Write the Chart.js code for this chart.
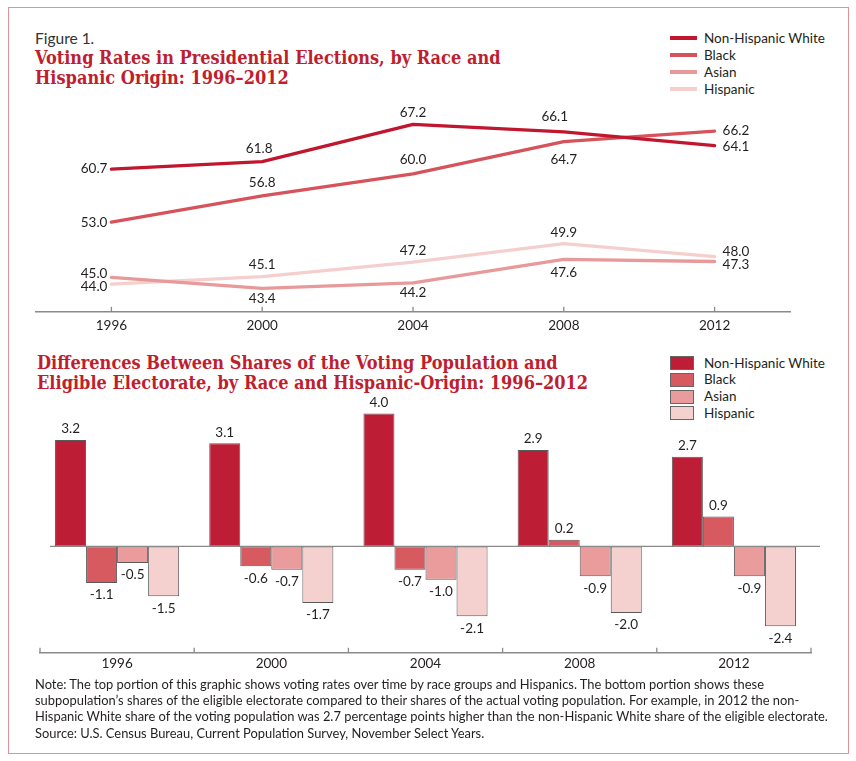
<!DOCTYPE html>
<html><head><meta charset="utf-8">
<script src="https://cdn.jsdelivr.net/npm/chart.js@4/dist/chart.umd.min.js"></script>
<style>
body{margin:0;background:#fff;}
#wrap{position:relative;width:856px;height:761px;overflow:hidden;font-family:Lato,"Open Sans",sans-serif;color:#231f20;}
#frame{position:absolute;left:8px;top:7px;border:1.5px solid #e6909b;box-sizing:border-box;width:841px;height:747px;}
.t{position:absolute;white-space:nowrap;}
.title{font-family:"DejaVu Serif",serif;font-weight:bold;color:#bf1e2e;font-size:18px;line-height:20px;font-stretch:condensed;}
.leg{font-size:13.5px;line-height:17px;}
.note{font-size:12.9px;line-height:16px;}
canvas{position:absolute;left:0;}
</style></head>
<body><div id="wrap">
<div id="frame"></div>
<div class="t" style="left:35px;top:29px;font-size:15.5px;line-height:18px;color:#333;">Figure 1.</div>
<div class="t title" style="left:35px;top:48px;">Voting Rates in Presidential Elections, by Race and</div>
<div class="t title" style="left:35px;top:68px;">Hispanic Origin: 1996–2012</div>
<div class="t title" style="left:37px;top:353px;">Differences Between Shares of the Voting Population and</div>
<div class="t title" style="left:37px;top:373px;">Eligible Electorate, by Race and Hispanic-Origin: 1996–2012</div>
<div id="leg1"></div>
<div id="leg2"></div>
<canvas id="c1" width="856" height="345" style="top:0"></canvas>
<canvas id="c2" width="856" height="340" style="top:340px"></canvas>
<div class="t note" style="left:35px;top:676px;">Note: The top portion of this graphic shows voting rates over time by race groups and Hispanics. The bottom portion shows these</div>
<div class="t note" style="left:35px;top:692px;">subpopulation’s shares of the eligible electorate compared to their shares of the actual voting population. For example, in 2012 the non-</div>
<div class="t note" style="left:35px;top:708px;">Hispanic White share of the voting population was 2.7 percentage points higher than the non-Hispanic White share of the eligible electorate.</div>
<div class="t note" style="left:35px;top:725px;">Source: U.S. Census Bureau, Current Population Survey, November Select Years.</div>
</div>
<script>
// ---- data ----
const years = ['1996','2000','2004','2008','2012'];
const seriesNames = ['Non-Hispanic White','Black','Asian','Hispanic'];
const nhwRate   = [60.7, 61.8, 67.2, 66.1, 64.1];
const blackRate = [53.0, 56.8, 60.0, 64.7, 66.2];
const asianRate = [45.0, 43.4, 44.2, 47.6, 47.3];
const hispRate  = [44.0, 45.1, 47.2, 49.9, 48.0];
const nhwDiff   = [3.2, 3.1, 4.0, 2.9, 2.7];
const blackDiff = [-1.1, -0.6, -0.7, 0.2, 0.9];
const asianDiff = [-0.5, -0.7, -1.0, -0.9, -0.9];
const hispDiff  = [-1.5, -1.7, -2.1, -2.0, -2.4];

// ---- styles ----
const lineColors = ['#c0172f','#d6535c','#e89a9a','#f5cfcd'];
const barColors  = ['#be1e35','#d65a60','#e99c9b','#f4d0ce'];
const FONT = 'Lato, "Open Sans", sans-serif';
const TXT = '#231f20';
const AXIS = '#8a8a8a';
// label placement per point: [mode, dx, dy]
const linePlace = [
  [['L',0,0],['A',-3,-13],['A',0,-12],['A',-9,-15],['R',0,1]],
  [['L',0,0],['A',0,-13],['A',0,-14],['B',0,18],['R',0,-1]],
  [['L',0,-4],['B',0,10],['B',0,10],['B',0,13],['R',0,3]],
  [['L',0,2],['A',0,-12],['A',0,-12],['A',0,-11],['R',0,-5]]
];

document.getElementById('leg1').innerHTML = seriesNames.map((n,i)=>
  `<div class="t" style="left:670px;top:${36+i*17}px;width:27px;height:4px;background:${lineColors[i]}"></div>`+
  `<div class="t leg" style="left:704px;top:${29.5+i*17}px;">${n}</div>`).join('');
document.getElementById('leg2').innerHTML = seriesNames.map((n,i)=>
  `<div class="t" style="left:670px;top:${356+i*16.8}px;width:24px;height:14px;background:${barColors[i]};border:1px solid #666;box-sizing:border-box"></div>`+
  `<div class="t leg" style="left:704px;top:${354.5+i*16.8}px;">${n}</div>`).join('');

const fmt = v => v.toFixed(1);

const upTicks = {
  id:'upTicks',
  afterDraw(chart, args, opts){
    const {ctx, chartArea:a} = chart; const xs = chart.scales.x;
    ctx.save(); ctx.strokeStyle = AXIS; ctx.lineWidth = 1.3;
    const n = xs.ticks.length;
    let pts = [];
    if (opts.mode === 'center') { for (let i=0;i<n;i++) pts.push(xs.getPixelForTick(i)); }
    else { for (let i=0;i<=n;i++) pts.push(a.left + i*(a.right-a.left)/n); }
    pts.forEach(x=>{ ctx.beginPath(); ctx.moveTo(x, a.bottom); ctx.lineTo(x, a.bottom-5); ctx.stroke(); });
    ctx.restore();
  }
};

const lineLabels = {
  id:'lineLabels',
  afterDatasetsDraw(chart){
    const ctx = chart.ctx; ctx.save();
    ctx.font = '13.5px ' + FONT; ctx.fillStyle = TXT; ctx.textBaseline = 'middle';
    chart.data.datasets.forEach((ds, di)=>{
      chart.getDatasetMeta(di).data.forEach((pt, i)=>{
        const [m, dx, dy] = linePlace[di][i];
        let x = pt.x + dx, y = pt.y + dy;
        if (m==='L'){ ctx.textAlign='right'; x -= 4; }
        else if (m==='R'){ ctx.textAlign='left'; x += 8; }
        else ctx.textAlign='center';
        ctx.fillText(fmt(ds.data[i]), x, y);
      });
    });
    ctx.restore();
  }
};

const barLabels = {
  id:'barLabels',
  afterDatasetsDraw(chart){
    const ctx = chart.ctx; const ys = chart.scales.y; const a = chart.chartArea;
    ctx.save();
    const y0 = ys.getPixelForValue(0);
    ctx.strokeStyle = AXIS; ctx.lineWidth = 1.3;
    ctx.beginPath(); ctx.moveTo(a.left+10, y0); ctx.lineTo(a.right+9, y0); ctx.stroke();
    ctx.font = '13.5px ' + FONT; ctx.fillStyle = TXT; ctx.textBaseline='middle'; ctx.textAlign='center';
    chart.data.datasets.forEach((ds, di)=>{
      chart.getDatasetMeta(di).data.forEach((b, i)=>{
        const v = ds.data[i];
        ctx.fillText(fmt(v), b.x, v>=0 ? b.y-11 : b.y+12);
      });
    });
    ctx.restore();
  }
};

const xTicks = (pad)=>({padding:pad, color:TXT, font:{family:FONT, size:13.5}, maxRotation:0, autoSkip:false});

new Chart(document.getElementById('c1'), {
  type:'line',
  data:{labels:years, datasets:[nhwRate,blackRate,asianRate,hispRate].map((d,i)=>({
    label:seriesNames[i], data:d, borderColor:lineColors[i], backgroundColor:lineColors[i],
    borderWidth:3.3, pointRadius:0, tension:0, borderCapStyle:'round', borderJoinStyle:'round'}))},
  options:{
    responsive:false, animation:false,
    layout:{padding:{left:36, right:66, top:105, bottom:5}},
    plugins:{legend:{display:false}, tooltip:{enabled:false}, upTicks:{mode:'center'}},
    scales:{
      x:{type:'category', offset:true, grid:{display:false, drawTicks:false}, border:{display:true, color:AXIS, width:1.5}, ticks:xTicks(6)},
      y:{display:false, min:40, max:70}
    }
  },
  plugins:[upTicks, lineLabels]
});

new Chart(document.getElementById('c2'), {
  type:'bar',
  data:{labels:years, datasets:[nhwDiff,blackDiff,asianDiff,hispDiff].map((d,i)=>({
    label:seriesNames[i], data:d, backgroundColor:barColors[i], borderColor:'#5a5a5a', borderWidth:1,
    borderSkipped:false, categoryPercentage:0.805, barPercentage:1.0}))},
  options:{
    responsive:false, animation:false,
    layout:{padding:{left:40, right:45, top:53.5, bottom:5}},
    plugins:{legend:{display:false}, tooltip:{enabled:false}, upTicks:{mode:'edges'}},
    scales:{
      x:{grid:{display:false, drawTicks:false}, border:{display:true, color:AXIS, width:1.5}, ticks:xTicks(3)},
      y:{display:false, min:-3.2, max:4.6}
    }
  },
  plugins:[upTicks, barLabels]
});
</script>
</body></html>
